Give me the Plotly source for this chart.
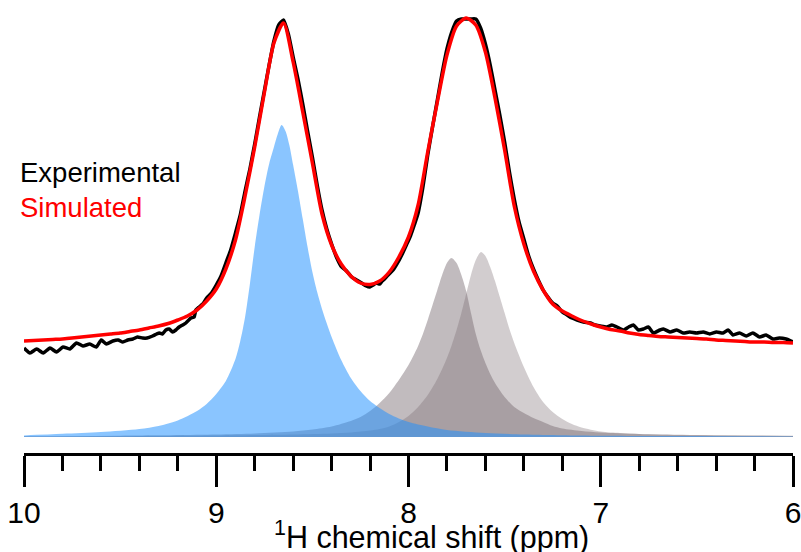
import plotly.graph_objects as go

# ---------------- data (intensity in arbitrary units) ----------------
ppm_grid = [10.00, 9.95, 9.90, 9.85, 9.80, 9.75, 9.70, 9.65, 9.60, 9.55,
            9.50, 9.45, 9.40, 9.35, 9.30, 9.25, 9.20, 9.15, 9.10, 9.05,
            9.00, 8.95, 8.90, 8.85, 8.80, 8.75, 8.70, 8.65, 8.60, 8.55,
            8.50, 8.45, 8.40, 8.35, 8.30, 8.25, 8.20, 8.15, 8.10, 8.05,
            8.00, 7.95, 7.90, 7.85, 7.80, 7.75, 7.70, 7.65, 7.60, 7.55,
            7.50, 7.45, 7.40, 7.35, 7.30, 7.25, 7.20, 7.15, 7.10, 7.05,
            7.00, 6.95, 6.90, 6.85, 6.80, 6.75, 6.70, 6.65, 6.60, 6.55,
            6.50, 6.45, 6.40, 6.35, 6.30, 6.25, 6.20, 6.15, 6.10, 6.05,
            6.00]

simulated = [96, 96.5, 97, 97.5, 98, 99, 100, 101, 102, 103,
             104, 105.5, 107, 109, 111, 113.5, 117, 121, 127, 136,
             148, 168, 197, 241, 290, 344, 394, 414, 375, 325,
             274, 223, 192, 173, 161, 154, 152.5, 156, 165, 180,
             200, 232, 285, 335, 382, 411, 419, 412, 385, 339,
             287, 231, 193, 166, 147, 133, 126, 121, 116.5, 113,
             110, 107.5, 106, 104, 102.5, 101.5, 100.5, 100, 99.5, 99,
             98.5, 98, 97, 96.5, 96, 95.5, 95, 95, 94.5, 94.5,
             94]

# blue component, centred near 8.66 ppm
blue_ppm = [10.0, 9.8, 9.6, 9.4, 9.3, 9.2, 9.1, 9.05, 9.0, 8.95,
            8.9, 8.875, 8.85, 8.825, 8.8, 8.775, 8.75, 8.725, 8.7, 8.68,
            8.66, 8.64, 8.62, 8.6, 8.575, 8.55, 8.525, 8.5, 8.475, 8.45,
            8.4, 8.35, 8.3, 8.25, 8.2, 8.1, 8.0, 7.9, 7.8, 7.6,
            7.4, 7.2, 7.0, 6.5, 6.0]
blue_int = [1.6, 3.2, 5, 8, 11, 16.5, 26, 33, 43, 56,
            78, 96, 120, 153, 190, 222, 250, 273, 290, 303,
            312, 306, 292, 272, 246, 218, 190, 165, 145, 128,
            100, 77, 59, 46, 36, 23, 15, 10.5, 7, 4,
            2.5, 1.8, 1.3, 0.9, 0.6]

# darker grey component, centred near 7.78 ppm
grey1_ppm = [10.0, 9.5, 9.0, 8.8, 8.6, 8.5, 8.4, 8.3, 8.25, 8.2,
             8.15, 8.1, 8.05, 8.0, 7.975, 7.95, 7.925, 7.9, 7.875, 7.85,
             7.825, 7.8, 7.777, 7.75, 7.725, 7.7, 7.675, 7.65, 7.625, 7.6,
             7.575, 7.55, 7.5, 7.45, 7.4, 7.35, 7.3, 7.25, 7.2, 7.1,
             7.0, 6.8, 6.5, 6.0]
grey1_int = [0.8, 1.35, 2.5, 3.5, 5.5, 7.5, 10.5, 16, 20, 26,
             34, 44, 57, 72, 81, 91, 103, 117, 132, 147,
             162, 174, 179, 174, 162, 146, 124, 103, 87, 74,
             63, 54, 40, 30, 24, 19, 15, 11, 8.5, 6,
             4.5, 3, 2, 1.25]

# lighter grey component, centred near 7.62 ppm
grey2_ppm = [10.0, 9.5, 9.0, 8.6, 8.4, 8.3, 8.2, 8.15, 8.1, 8.05,
             8.0, 7.95, 7.9, 7.85, 7.8, 7.775, 7.75, 7.725, 7.7, 7.675,
             7.65, 7.623, 7.6, 7.575, 7.55, 7.525, 7.5, 7.475, 7.45, 7.4,
             7.35, 7.3, 7.25, 7.2, 7.15, 7.1, 7.0, 6.9, 6.8, 6.6,
             6.3, 6.0]
grey2_int = [0.5, 0.8, 1.5, 2.5, 3.5, 4.5, 6.5, 8, 10.5, 15,
             21, 30, 42, 58, 79, 92, 107, 124, 143, 162,
             177, 185, 181, 170, 156, 140, 124, 108, 94, 70,
             50, 35, 25, 18, 13, 9.5, 5.5, 4, 3, 2,
             1.4, 1.0]

exp_ppm = [10.000, 9.969, 9.934, 9.900, 9.865, 9.831, 9.797, 9.762, 9.727, 9.693,
           9.658, 9.624, 9.598, 9.572, 9.538, 9.510, 9.486, 9.460, 9.434, 9.410,
           9.383, 9.360, 9.331, 9.310, 9.296, 9.280, 9.262, 9.245, 9.227, 9.210,
           9.193, 9.175, 9.158, 9.132, 9.115, 9.106, 9.089, 9.070, 9.050, 9.025,
           9.000, 8.975, 8.950, 8.925, 8.900, 8.875, 8.850, 8.825, 8.800, 8.775,
           8.750, 8.725, 8.700, 8.675, 8.650, 8.625, 8.600, 8.575, 8.550, 8.525,
           8.500, 8.475, 8.450, 8.425, 8.400, 8.375, 8.348, 8.322, 8.296, 8.270,
           8.244, 8.220, 8.201, 8.183, 8.167, 8.150, 8.141, 8.125, 8.106, 8.080,
           8.054, 8.030, 8.011, 7.990, 7.970, 7.950, 7.925, 7.900, 7.875, 7.850,
           7.825, 7.800, 7.775, 7.750, 7.725, 7.700, 7.675, 7.650, 7.625, 7.600,
           7.575, 7.550, 7.525, 7.500, 7.475, 7.450, 7.425, 7.400, 7.375, 7.350,
           7.325, 7.300, 7.275, 7.250, 7.226, 7.200, 7.175, 7.150, 7.123, 7.090,
           7.054, 7.030, 7.002, 6.968, 6.942, 6.916, 6.881, 6.855, 6.830, 6.804,
           6.778, 6.752, 6.726, 6.692, 6.674, 6.640, 6.605, 6.571, 6.537, 6.502,
           6.467, 6.433, 6.398, 6.364, 6.338, 6.312, 6.278, 6.243, 6.209, 6.174,
           6.140, 6.105, 6.071, 6.036, 6.000]

experimental = [89, 84, 88, 84, 89, 85, 90, 88, 94, 91,
                93, 90, 97, 93, 96, 97, 95, 97, 98, 100,
                99, 99, 101, 103, 104, 103, 107, 108, 105, 107,
                110, 112, 114, 119, 120, 127, 130, 133, 139, 144,
                152, 161, 174, 187, 204, 222, 246, 268, 293, 320,
                346, 372, 396, 412, 417, 403, 380, 358, 333, 306,
                280, 252, 227, 208, 193, 180, 170, 166, 160, 157,
                154, 151, 150, 152, 154, 153, 155, 158, 162, 167,
                175, 184, 192, 201, 212, 224, 250, 282, 310, 337,
                364, 388, 405, 416, 418, 418, 418, 418, 409, 393,
                372, 347, 322, 295, 265, 238, 215, 198, 181, 168,
                157, 147, 140, 134, 131, 125, 122, 119, 117, 115,
                114, 112, 111, 110, 112, 110, 107, 110, 112, 107,
                108, 110, 104, 107, 108, 105, 107, 104, 105, 104,
                105, 103, 105, 104, 107, 102, 104, 101, 104, 100,
                102, 98, 99, 98, 95]

tick_vals = [10, 9, 8, 7, 6]
tick_text = ["10", "9", "8", "7", "6"]

assert len(simulated) == len(ppm_grid)
assert len(blue_ppm) == len(blue_int)
assert len(grey1_ppm) == len(grey1_int)
assert len(grey2_ppm) == len(grey2_int)
assert len(exp_ppm) == len(experimental)

# ---------------- figure ----------------
fig = go.Figure()

fill_line = dict(width=0, shape="spline", smoothing=0.8)
fig.add_trace(go.Scatter(x=grey1_ppm, y=grey1_int, mode="lines", line=fill_line,
                         fill="tozeroy", fillcolor="rgba(118,104,110,0.45)",
                         hoverinfo="skip", showlegend=False))
fig.add_trace(go.Scatter(x=grey2_ppm, y=grey2_int, mode="lines", line=fill_line,
                         fill="tozeroy", fillcolor="rgba(118,104,110,0.33)",
                         hoverinfo="skip", showlegend=False))
fig.add_trace(go.Scatter(x=blue_ppm, y=blue_int, mode="lines", line=fill_line,
                         fill="tozeroy", fillcolor="rgba(30,144,255,0.52)",
                         hoverinfo="skip", showlegend=False))
fig.add_trace(go.Scatter(x=exp_ppm, y=experimental, mode="lines",
                         line=dict(color="black", width=3.5, shape="spline", smoothing=0.5),
                         name="Experimental", showlegend=False))
fig.add_trace(go.Scatter(x=ppm_grid, y=simulated, mode="lines",
                         line=dict(color="#ff0000", width=3.5, shape="spline", smoothing=0.7),
                         name="Simulated", showlegend=False))

W, H = 801, 552
ml, mr, mt, mb = 24, 4, 0, 99
plot_w = W - ml - mr
plot_h = H - mt - mb

def px_to_paper_x(px):
    return (px - ml) / plot_w

def py_to_paper_y(py):
    return (H - mb - py) / plot_h

font_family = "Liberation Sans, Arial, sans-serif"

fig.add_annotation(x=px_to_paper_x(18), y=py_to_paper_y(172), xref="paper", yref="paper",
                   text="Experimental", showarrow=False, xanchor="left", yanchor="middle",
                   font=dict(family=font_family, size=27.5, color="black"))
fig.add_annotation(x=px_to_paper_x(18), y=py_to_paper_y(207), xref="paper", yref="paper",
                   text="Simulated", showarrow=False, xanchor="left", yanchor="middle",
                   font=dict(family=font_family, size=27.5, color="#ff0000"))
fig.add_annotation(x=px_to_paper_x(434), y=py_to_paper_y(535), xref="paper", yref="paper",
                   text="<sup>1</sup>H chemical shift (ppm)", showarrow=False,
                   xanchor="center", yanchor="middle",
                   font=dict(family=font_family, size=30.5, color="black"))

fig.update_xaxes(range=[10, 6], showgrid=False, zeroline=False,
                 showline=True, linecolor="black", linewidth=3,
                 ticks="outside", ticklen=31, tickwidth=3, tickcolor="black",
                 tickvals=tick_vals, ticktext=tick_text, ticklabeloverflow="allow",
                 tickfont=dict(family=font_family, size=30, color="black"),
                 minor=dict(dtick=0.2, tick0=6, ticks="outside", ticklen=15,
                            tickwidth=3, tickcolor="black", showgrid=False))
fig.update_yaxes(range=[-16, 437], visible=False, showgrid=False, zeroline=False)

fig.update_layout(width=W, height=H, margin=dict(l=ml, r=mr, t=mt, b=mb),
                  paper_bgcolor="white", plot_bgcolor="white",
                  showlegend=False)

fig.write_html("out.html")
